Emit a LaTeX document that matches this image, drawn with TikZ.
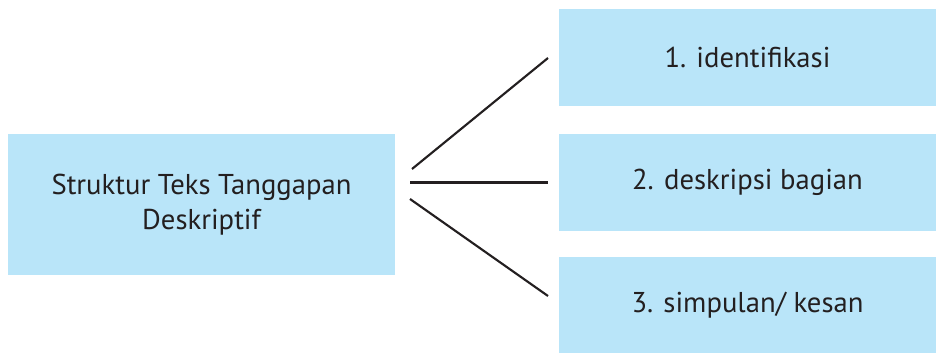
\documentclass[tikz,border=0pt]{standalone}
\usepackage{fontspec}
\setmainfont{PT Sans}
\definecolor{kotak}{HTML}{B9E5F9}
\definecolor{tinta}{HTML}{231F20}
\tikzset{
kotak/.style={fill=kotak, inner sep=0pt, text=tinta, align=center,
font=\fontsize{21.5}{26.3}\selectfont},
garis/.style={line width=1.6pt, tinta},
}

\begin{document}
\begin{tikzpicture}[x=0.75pt, y=-0.75pt]
\useasboundingbox (0,0) rectangle (936,353);
%kotak kiri
\node[kotak, minimum width=387*0.75pt, minimum height=141*0.75pt]
(struktur) at (201.5,204.5) {Struktur Teks Tanggapan\\Deskriptif};
%kotak kanan
\node[kotak, minimum width=377*0.75pt, minimum height=97*0.75pt]
(identifikasi) at (747.5,57.5) {1. identifikasi};
\node[kotak, minimum width=377*0.75pt, minimum height=97*0.75pt]
(deskripsi) at (747.5,182.5) {2. deskripsi bagian};
\node[kotak, minimum width=377*0.75pt, minimum height=96*0.75pt]
(simpulan) at (747.5,305) {3. simpulan/ kesan};
\coordinate (a1) at (412,169);
\coordinate (a2) at (410,182.5);
\coordinate (a3) at (410,199);
\coordinate (b1) at (548,58);
\coordinate (b2) at (548,182.5);
\coordinate (b3) at (548,296);
\draw[garis] (a1) -- (b1);
\draw[garis] (a2) -- (b2);
\draw[garis] (a3) -- (b3);
\end{tikzpicture}
\end{document}
